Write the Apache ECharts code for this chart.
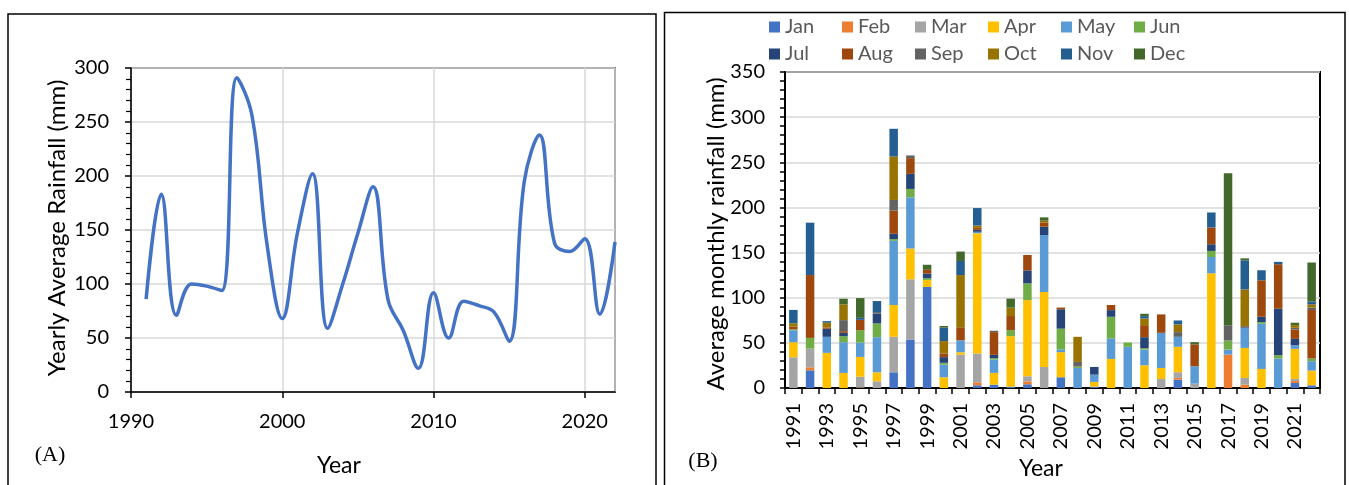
<!DOCTYPE html>
<html><head><meta charset="utf-8">
<script src="https://cdn.jsdelivr.net/npm/echarts@6/dist/echarts.min.js"></script>
<style>html,body{margin:0;padding:0;background:#fff}#c{width:1349px;height:485px}</style>
</head><body><div id="c"></div>
<script>
// ---- data ----
const years = ['1991','1992','1993','1994','1995','1996','1997','1998','1999','2000','2001','2002','2003','2004','2005','2006','2007','2008','2009','2010','2011','2012','2013','2014','2015','2016','2017','2018','2019','2020','2021','2022'];
const yearlyAvg = [86,183,71,100,98,94,291,256,136,68,147,202,59,100,147,190,85,57,22,92,50,84,80,74,47,195,238,138,130,142,72,139];
const monthNames = ['Jan','Feb','Mar','Apr','May','Jun','Jul','Aug','Sep','Oct','Nov','Dec'];
const jan = [0,19.6,0,0,0,0,17.4,53.7,111.9,0,0,3,3.7,1.5,4.1,0,11.9,0,1.5,0,0,0,0,9.3,0,0,0,0,0,0,5.6,3];
const feb = [0,3.3,0,0,0.5,0,0,0,0,0,0,3.3,0,0,3.3,0,0,0,0,0,0,0,0,1.9,0,0,37,3.7,0,0,2.2,0];
const mar = [34,20.7,0,0,12,7.4,39.3,66.7,0,0,37,31.9,0,0,5.6,23.3,0,0,0,0,0,0,10,6.3,4.8,0,0,7.4,0,0,2.2,0];
const apr = [16.7,0,38.9,16.7,21.9,10,35.2,34.1,7.8,11.9,2.6,133.3,13,55.9,84.4,83,27.8,0,5.2,32.2,0,25.2,12.2,28.1,0,127,0,33.3,21.1,0,33.3,16.3];
const may = [13.3,0,17.8,34,15.9,38.9,71.1,56.7,0,14.1,13.3,1.5,14.8,0,0,63,3,22.2,8.1,22.6,45.6,17.4,38.9,11.1,19.3,18.1,5.6,22.2,50,32.6,4.1,10.4];
const jun = [1,11.9,0,6.7,13.7,15.2,1.9,9.3,1.9,1.9,0,0,1.5,6.7,18.5,0,23,1.5,0,24.1,4.8,1.5,0,0,0,6.7,10,0,1.9,3.7,0,3];
const jul = [0,0,8.9,3.7,0,11.1,5.9,16.7,5.2,6.3,0,2.2,3.7,0,14.4,9.3,21.5,0,8.5,7.4,0,12.2,0,0,0,7.4,0,0,5.9,51.5,7,0];
const aug = [3,69.6,1.5,1.9,11.5,0,25.6,17.4,4.1,4.1,14.4,2.2,25.2,15.6,17,4.8,1.9,0,0,5.6,0,13.3,20.4,0,24.1,18.5,0,0,40.4,49.3,10.4,53.7];
const sep = [0,0,0,12.2,0,1.5,11.9,3,0,0,0,0,1.5,0,0,0,0,5.2,0,0,0,0,0,5.2,0,0,16.7,1.9,0,0,1.9,2.6];
const oct = [3.7,0,5.2,17.4,0,0,48.1,0,0,13.7,57.8,2.6,0,9.3,0,1.9,0,27.8,0,0,0,7.4,0,8.5,0,0,0,40.7,0,0,3,3.7];
const nov = [14.8,58,1.8,0,2.2,12.2,30.7,0,0,14.8,15.6,19.3,0,0,0,0,0,0,0,0,0,2.6,0,4.4,0,16.7,0,32.2,11.1,2.6,0,3];
const dec = [0,0,0,6.3,21.9,0,0,0,5.6,1.9,10.4,0,0,10,0,3.7,0,0,0,0,0,2.6,0,0,2.6,0,168.5,2.2,0,0,2.6,43.3];
const monthly = [jan,feb,mar,apr,may,jun,jul,aug,sep,oct,nov,dec];

// ---- style ----
const colors = ['#4472C4','#ED7D31','#A5A5A5','#FFC000','#5B9BD5','#70AD47','#264478','#9E480E','#636363','#997300','#255E91','#43682B'];
const FF = 'Lato';
const grid = '#D9D9D9';

const chart = echarts.init(document.getElementById('c'), null, {renderer:'canvas'});

const legends = monthNames.map((m,i)=>({
  left: 769 + (i%6)*73, top: (i<6 ? 28 : 55) - 11,
  data:[m], icon:'rect', itemWidth:11, itemHeight:11, itemGap:0, padding:0,
  selectedMode:false,
  textStyle:{color:'#595959', fontSize:20, fontFamily:FF}
}));

const barSeries = monthNames.map((m,i)=>({
  name:m, type:'bar', stack:'total', xAxisIndex:1, yAxisIndex:1,
  barWidth:8.5, data: monthly[i], itemStyle:{color:colors[i]}
}));

chart.setOption({
  animation:false,
  textStyle:{fontFamily:FF},
  legend: legends,
  grid:[
    {left:131, top:68, width:484, height:324, show:true, borderColor:'#000', borderWidth:1.5, backgroundColor:'transparent'},
    {left:785, top:72, width:535, height:316, show:true, borderColor:'#000', borderWidth:2, backgroundColor:'transparent'}
  ],
  xAxis:[
    {gridIndex:0, type:'value', min:1990, max:2022, interval:10,
     axisLine:{lineStyle:{color:'#000', width:1.5}},
     axisTick:{show:true, length:6, lineStyle:{color:'#000', width:1.5}},
     axisLabel:{color:'#000', fontSize:20, margin:20, showMaxLabel:false, fontFamily:FF, formatter:(v)=>String(v)},
     splitLine:{show:true, lineStyle:{color:grid, width:1.5}}},
    {gridIndex:1, type:'category', data:years, boundaryGap:true,
     axisLine:{lineStyle:{color:'#000', width:2}},
     axisTick:{show:true, interval:0, length:6, lineStyle:{color:'#000', width:1.5}},
     axisLabel:{color:'#000', fontSize:20, rotate:90, interval:1, margin:15, fontFamily:FF},
     splitLine:{show:false}}
  ],
  yAxis:[
    {gridIndex:0, type:'value', min:0, max:300, interval:50,
     axisLine:{show:true, lineStyle:{color:'#000', width:1.5}},
     axisTick:{show:true, length:6, lineStyle:{color:'#000', width:1.5}},
     minorTick:{show:true, splitNumber:5, length:5, lineStyle:{color:'#000', width:1.2}},
     axisLabel:{color:'#000', fontSize:20, margin:22, fontFamily:FF},
     splitLine:{show:true, lineStyle:{color:grid, width:1.5}}},
    {gridIndex:1, type:'value', min:0, max:350, interval:50,
     axisLine:{show:true, lineStyle:{color:'#000', width:2}},
     axisTick:{show:true, length:5, lineStyle:{color:'#000', width:1.5}},
     minorTick:{show:true, splitNumber:5, length:5, lineStyle:{color:'#000', width:1.5}},
     axisLabel:{color:'#000', fontSize:20, margin:20, fontFamily:FF},
     splitLine:{show:true, lineStyle:{color:grid, width:1.5}}}
  ],
  series:[
    {name:'Yearly Average Rainfall', type:'line', xAxisIndex:0, yAxisIndex:0, smooth:0.4,
     showSymbol:false, data: years.map((y,i)=>[Number(y), yearlyAvg[i]]),
     lineStyle:{color:'#4472C4', width:3.5}, itemStyle:{color:'#4472C4'}}
  ].concat(barSeries),
  graphic:[
    {type:'rect', shape:{x:8, y:14, width:648, height:480}, style:{fill:'none', stroke:'#000', lineWidth:1.5}},
    {type:'rect', shape:{x:664.5, y:12.5, width:680.5, height:480}, style:{fill:'none', stroke:'#000', lineWidth:1.5}},
    {type:'text', x:57, y:228, rotation:Math.PI/2, style:{text:'Yearly Average Rainfall (mm)', font:'24px Lato', fill:'#000', textAlign:'center', textVerticalAlign:'middle'}},
    {type:'text', x:716, y:234, rotation:Math.PI/2, style:{text:'Average monthly rainfall (mm)', font:'24px Lato', fill:'#000', textAlign:'center', textVerticalAlign:'middle'}},
    {type:'text', x:339, y:466, style:{text:'Year', font:'23px Lato', fill:'#000', textAlign:'center', textVerticalAlign:'middle'}},
    {type:'text', x:1041, y:469, style:{text:'Year', font:'23px Lato', fill:'#000', textAlign:'center', textVerticalAlign:'middle'}},
    {type:'text', x:50, y:455, style:{text:'(A)', font:'22px "Liberation Serif"', fill:'#000', textAlign:'center', textVerticalAlign:'middle'}},
    {type:'text', x:703, y:461, style:{text:'(B)', font:'22px "Liberation Serif"', fill:'#000', textAlign:'center', textVerticalAlign:'middle'}}
  ]
});
</script></body></html>
